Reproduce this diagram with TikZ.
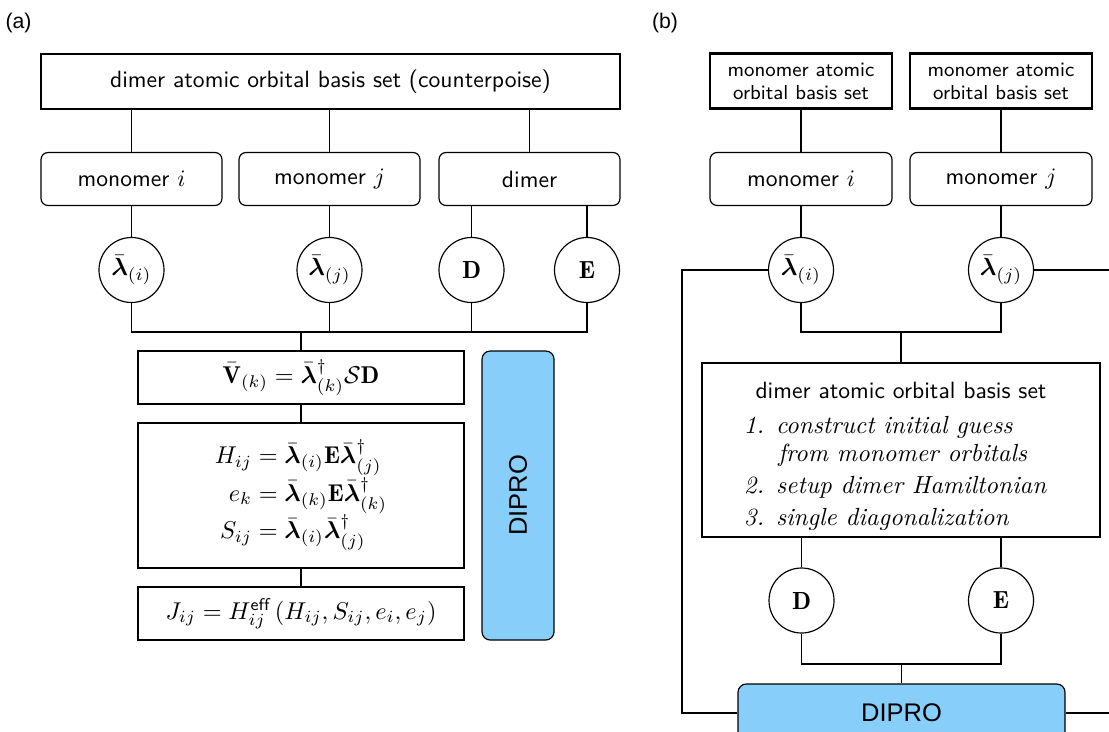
\RequirePackage{fix-cm}
\documentclass[tikz,border=0pt]{standalone}
\usepackage{amsmath}
\usepackage{bm}
\usepackage{fontspec}
\newfontfamily\helv{Liberation Sans}
\definecolor{dipro}{RGB}{135,206,250}
\newcommand\PX[1]{#1*0.4237pt}
\begin{document}
\begin{tikzpicture}[x=0.4237pt,y=-0.4237pt, line width=0.5pt,
  every node/.style={inner sep=0pt},
  thickbox/.style={draw, line width=0.9pt, font=\sffamily\fontsize{10}{12}\selectfont},
  rbox/.style={draw, rounded corners=3pt, minimum width=\PX{181}, minimum height=\PX{53}, font=\sffamily\fontsize{10}{12}\selectfont},
  circ/.style={draw, circle, minimum size=\PX{65}, font=\fontsize{10.5}{12.6}\selectfont},
  eqbox/.style={draw, minimum width=\PX{326}, font=\fontsize{10.3}{12.4}\selectfont\setlength{\jot}{3.5pt}\setlength{\lineskiplimit}{-30pt}},
  diprobox/.style={draw, fill=dipro, rounded corners=3.5pt, font=\helv\fontsize{10.8}{13}\selectfont},
  panel/.style={font=\helv\fontsize{9}{11}\selectfont},
  listtxt/.style={anchor=base west, font=\fontsize{10.5}{12}\selectfont\itshape},
  head/.style={anchor=base, font=\sffamily\fontsize{10}{12}\selectfont}]
\useasboundingbox (0,0) rectangle (1109,731);
\clip (0,0) rectangle (1109,731);

% ---------- panel (a) ----------
\node[panel] (pa) at (18.5,23) {(a)};
\node[thickbox, minimum width=\PX{579}, minimum height=\PX{55}] (topA) at (330.5,81.5) {dimer atomic orbital basis set (counterpoise)};
\node[rbox] (mi) at (131.5,179) {monomer $i$};
\node[rbox] (mj) at (329.5,179) {monomer $j$};
\node[rbox] (dm) at (529.5,179) {dimer};
\node[circ] (li) at (131.5,270) {$\bm{\bar\lambda}_{(i)}$};
\node[circ] (lj) at (329.5,270) {$\bm{\bar\lambda}_{(j)}$};
\node[circ] (Da) at (471.5,270) {$\mathbf{D}$};
\node[circ] (Ea) at (587,270) {$\mathbf{E}$};
\coordinate (jA) at (301,332);
\node[eqbox, minimum height=\PX{53}] (V) at (301,377.5) {$\bm{\bar{\mathrm{V}}}_{(k)} = \bm{\bar\lambda}^{\dagger}_{(k)}\mathcal{S}\mathbf{D}$};
\node[eqbox, minimum height=\PX{145}] (H) at (301,495.5) {$\begin{aligned}
  H_{ij} &= \bm{\bar\lambda}_{(i)}\mathbf{E}\bm{\bar\lambda}^{\dagger}_{(j)}\\
  e_{k} &= \bm{\bar\lambda}_{(k)}\mathbf{E}\bm{\bar\lambda}^{\dagger}_{(k)}\\
  S_{ij} &= \bm{\bar\lambda}_{(i)}\bm{\bar\lambda}^{\dagger}_{(j)}
  \end{aligned}$};
\node[eqbox, minimum height=\PX{53}] (J) at (301,613.5) {$J_{ij} = H^{\mathsf{eff}}_{ij}\left(H_{ij}, S_{ij}, e_i, e_j\right)$};
\node[diprobox, minimum width=\PX{289}, minimum height=\PX{72}, rotate=90] (dipa) at (518,495.5) {DIPRO};

\draw (mi.north |- topA.south) -- (mi.north);
\draw (mj.north |- topA.south) -- (mj.north);
\draw (dm.north |- topA.south) -- (dm.north);
\draw (mi.south) -- (li.north);
\draw (mj.south) -- (lj.north);
\draw (Da.north |- dm.south) -- (Da.north);
\draw (Ea.north |- dm.south) -- (Ea.north);
\draw (li.south) |- (jA);
\draw (Ea.south) |- (jA);
\draw (lj.south) -- (lj.south |- jA);
\draw (Da.south) -- (Da.south |- jA);
\draw (jA) -- (V.north);
\draw (V.south) -- (H.north);
\draw (H.south) -- (J.north);

% ---------- panel (b) ----------
\node[panel] (pb) at (665,23) {(b)};
\node[thickbox, font=\sffamily\fontsize{8.6}{9.8}\selectfont, align=center, minimum width=\PX{182}, minimum height=\PX{55}] (mab1) at (801,81) {monomer atomic\\orbital basis set};
\node[thickbox, font=\sffamily\fontsize{8.6}{9.8}\selectfont, align=center, minimum width=\PX{182}, minimum height=\PX{55}] (mab2) at (1001,81) {monomer atomic\\orbital basis set};
\node[rbox, minimum width=\PX{182}] (bmi) at (801,179) {monomer $i$};
\node[rbox, minimum width=\PX{182}] (bmj) at (1001,179) {monomer $j$};
\node[circ] (bli) at (801,270) {$\bm{\bar\lambda}_{(i)}$};
\node[circ] (blj) at (1001,270) {$\bm{\bar\lambda}_{(j)}$};
\coordinate (jB) at (901,332);
\node[draw, line width=0.9pt, minimum width=\PX{398}, minimum height=\PX{174}] (big) at (901,450) {};
\node[head] (bighead) at (901,398) {dimer atomic orbital basis set};
\node[listtxt] (it1) at (740,433) {\makebox[10pt][r]{1.}\hspace{5pt}construct initial guess};
\node[listtxt] (it1b) at (740,461) {\hspace{16pt}from monomer orbitals};
\node[listtxt] (it2) at (740,493) {\makebox[10pt][r]{2.}\hspace{5pt}setup dimer Hamiltonian};
\node[listtxt] (it3) at (740,525) {\makebox[10pt][r]{3.}\hspace{5pt}single diagonalization};
\node[circ] (bD) at (801.5,600.5) {$\mathbf{D}$};
\node[circ] (bE) at (1001,600.5) {$\mathbf{E}$};
\coordinate (jB2) at (901.5,664);
\node[diprobox, minimum width=\PX{327}, minimum height=\PX{58}] (dipb) at (901.5,713) {DIPRO};
\coordinate (lft) at (682,713);
\coordinate (rgt) at (1120,713);

\draw (bmi.north |- mab1.south) -- (bmi.north);
\draw (bmj.north |- mab2.south) -- (bmj.north);
\draw (bmi.south) -- (bli.north);
\draw (bmj.south) -- (blj.north);
\draw (bli.south) |- (jB);
\draw (blj.south) |- (jB);
\draw (jB) -- (big.north);
\draw (bD.north |- big.south) -- (bD.north);
\draw (bE.north |- big.south) -- (bE.north);
\draw (bD.south) |- (jB2);
\draw (bE.south) |- (jB2);
\draw (jB2) -- (dipb.north);
\draw (bli.west) -| (lft) -- (dipb.west);
\draw (blj.east) -| (rgt) -- (dipb.east);
\end{tikzpicture}
\end{document}
